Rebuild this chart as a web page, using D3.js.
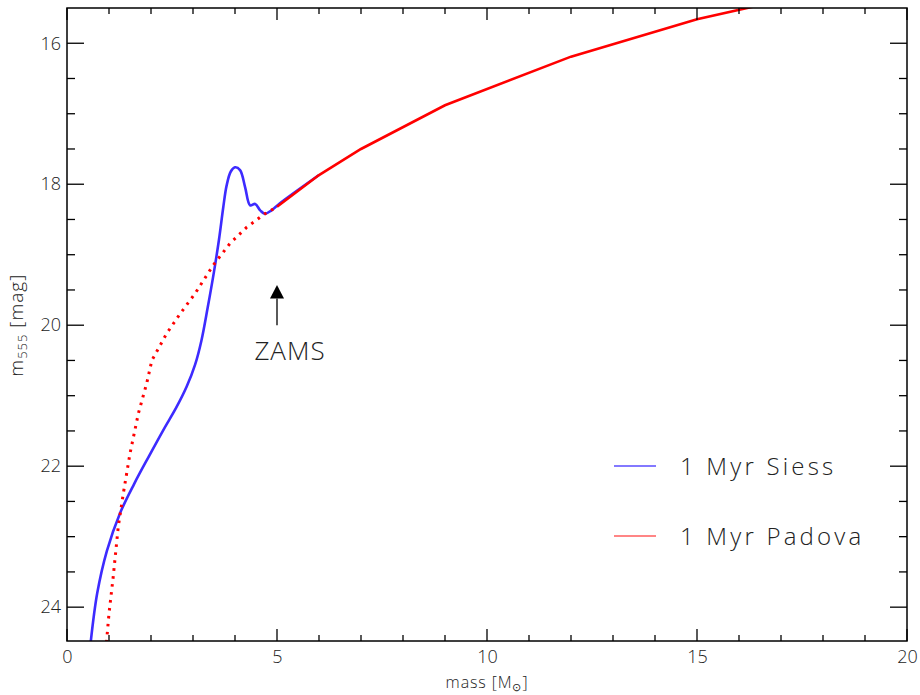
<!DOCTYPE html>
<html><head><meta charset="utf-8">
<script src="https://cdn.jsdelivr.net/npm/d3@7"></script>
<style>
html,body{margin:0;padding:0;background:#fff;}
text{font-family:"Open Sans","Lato","DejaVu Sans",sans-serif;font-weight:300;fill:#222;}
</style></head>
<body><svg id="c" width="920" height="695"></svg>
<script>
// ---- data ----
const xTicksMajor = [0, 5, 10, 15, 20];
const yTicksMajor = [16, 18, 20, 22, 24];
const siessMass = [0.56,0.72,0.95,1.26,1.60,1.95,2.30,2.60,2.85,3.05,3.20,3.35,3.50,3.62,3.72,3.80,3.90,4.00,4.12,4.24,4.36,4.48,4.60,4.71,4.87,5.07,6.0];
const siessMag  = [24.52,23.80,23.20,22.67,22.25,21.86,21.48,21.17,20.87,20.56,20.22,19.75,19.24,18.78,18.33,18.02,17.82,17.76,17.80,18.04,18.30,18.28,18.37,18.42,18.37,18.27,17.87];
const padLowMass = [0.94,1.00,1.10,1.22,1.34,1.50,1.70,1.90,2.02,2.37,2.69,3.05,3.48,3.88,4.28,4.71,5.0];
const padLowMag  = [24.50,24.09,23.57,22.86,22.39,21.82,21.25,20.82,20.50,20.12,19.84,19.55,19.15,18.84,18.61,18.42,18.32];
const padHighMass = [5.0,6.0,7.0,9.0,12.0,15.0,20.0];
const padHighMag  = [18.32,17.87,17.50,16.88,16.19,15.66,14.99];
const legendLabels = ["1 Myr Siess", "1 Myr Padova"];

const svg = d3.select("#c");
const L = 67, R = 907, T = 8, B = 641;
const x = d3.scaleLinear().domain([0, 20]).range([L, R]);
const y = d3.scaleLinear().domain([15.5, 24.48]).range([T, B]);

svg.append("defs").append("clipPath").attr("id","clip")
  .append("rect").attr("x",L).attr("y",T).attr("width",R-L).attr("height",B-T);

const blue = "#3d2bff", red = "#ff0000";
const g = svg.append("g").attr("clip-path","url(#clip)");

const lineSmooth = d3.line().x(d=>x(d[0])).y(d=>y(d[1])).curve(d3.curveCatmullRom.alpha(0.5));
const lineLin = d3.line().x(d=>x(d[0])).y(d=>y(d[1]));

g.append("path").datum(siessMass.map((m,i)=>[m,siessMag[i]]))
  .attr("d", lineSmooth).attr("fill","none").attr("stroke",blue).attr("stroke-width",2.6);
g.append("path").datum(padLowMass.map((m,i)=>[m,padLowMag[i]]))
  .attr("d", lineLin).attr("fill","none").attr("stroke",red).attr("stroke-width",3)
  .attr("stroke-dasharray","2.6,5.4");
g.append("path").datum(padHighMass.map((m,i)=>[m,padHighMag[i]]))
  .attr("d", lineLin).attr("fill","none").attr("stroke",red).attr("stroke-width",2.6);

// ---- axes ----
const ax = svg.append("g");
const xMinor = d3.range(0, 21, 1);
const yMinor = d3.range(16, 24.5, 0.5);

const bottomAxis = d3.axisBottom(x).tickValues(xTicksMajor).tickSize(0).tickPadding(9).tickFormat(d3.format("d"));
ax.append("g").attr("transform",`translate(0,${B})`).call(bottomAxis)
  .call(s=>s.select(".domain").remove())
  .call(s=>s.selectAll("text").attr("font-size",18).attr("font-family","Open Sans, sans-serif").attr("fill","#222"));
const leftAxis = d3.axisLeft(y).tickValues(yTicksMajor).tickSize(0).tickPadding(6).tickFormat(d3.format("d"));
ax.append("g").attr("transform",`translate(${L},0)`).call(leftAxis)
  .call(s=>s.select(".domain").remove())
  .call(s=>s.selectAll("text").attr("font-size",18).attr("font-family","Open Sans, sans-serif").attr("fill","#222"));

// tick marks
const tk = ax.append("g").attr("stroke","#000").attr("stroke-width",1.3);
xMinor.forEach(v=>{
  const len = xTicksMajor.includes(v) ? 12 : 6;
  tk.append("line").attr("x1",x(v)).attr("x2",x(v)).attr("y1",B).attr("y2",B-len);
  tk.append("line").attr("x1",x(v)).attr("x2",x(v)).attr("y1",T).attr("y2",T+len);
});
yMinor.forEach(v=>{
  const len = yTicksMajor.includes(v) ? 17 : 8;
  tk.append("line").attr("x1",L).attr("x2",L+len).attr("y1",y(v)).attr("y2",y(v));
  tk.append("line").attr("x1",R).attr("x2",R-len).attr("y1",y(v)).attr("y2",y(v));
});
ax.append("rect").attr("x",L).attr("y",T).attr("width",R-L).attr("height",B-T)
  .attr("fill","none").attr("stroke","#000").attr("stroke-width",1.5);

// axis titles
const xt = svg.append("text").attr("x", x(10)).attr("y", 688).attr("text-anchor","middle").attr("font-size",16).attr("letter-spacing",0.9);
xt.append("tspan").text("mass [M");
xt.append("tspan").attr("font-size",11).attr("dy",3).text("⊙");
xt.append("tspan").attr("dy",-3).text("]");

const yt = svg.append("text").attr("transform",`translate(23,${y(20)}) rotate(-90)`).attr("text-anchor","middle").attr("font-size",19).attr("letter-spacing",1);
yt.append("tspan").text("m");
yt.append("tspan").attr("font-size",13).attr("dy",4).text("555");
yt.append("tspan").attr("dy",-4).text(" [mag]");

// ZAMS annotation
const ann = svg.append("g");
ann.append("line").attr("x1",x(5)).attr("x2",x(5)).attr("y1",y(20)).attr("y2",y(19.62)).attr("stroke","#000").attr("stroke-width",1.3);
ann.append("path").attr("d",`M${x(5)-7},${y(19.62)} L${x(5)+7},${y(19.62)} L${x(5)},${y(19.43)} Z`).attr("fill","#000");
ann.append("text").attr("x", x(5)+13).attr("y", 360).attr("text-anchor","middle").attr("font-size",26).attr("letter-spacing",1).text("ZAMS");

// legend
const leg = svg.append("g");
const legColors = ["#5a4cff", "#ff5c5c"];
const legY = [466, 536];
legendLabels.forEach((t,i)=>{
  leg.append("line").attr("x1",614).attr("x2",656).attr("y1",legY[i]).attr("y2",legY[i]).attr("stroke",legColors[i]).attr("stroke-width",1.6);
  leg.append("text").attr("x",680).attr("y",legY[i]+9).attr("font-size",24).attr("letter-spacing",3.2).text(t);
});
</script></body></html>
